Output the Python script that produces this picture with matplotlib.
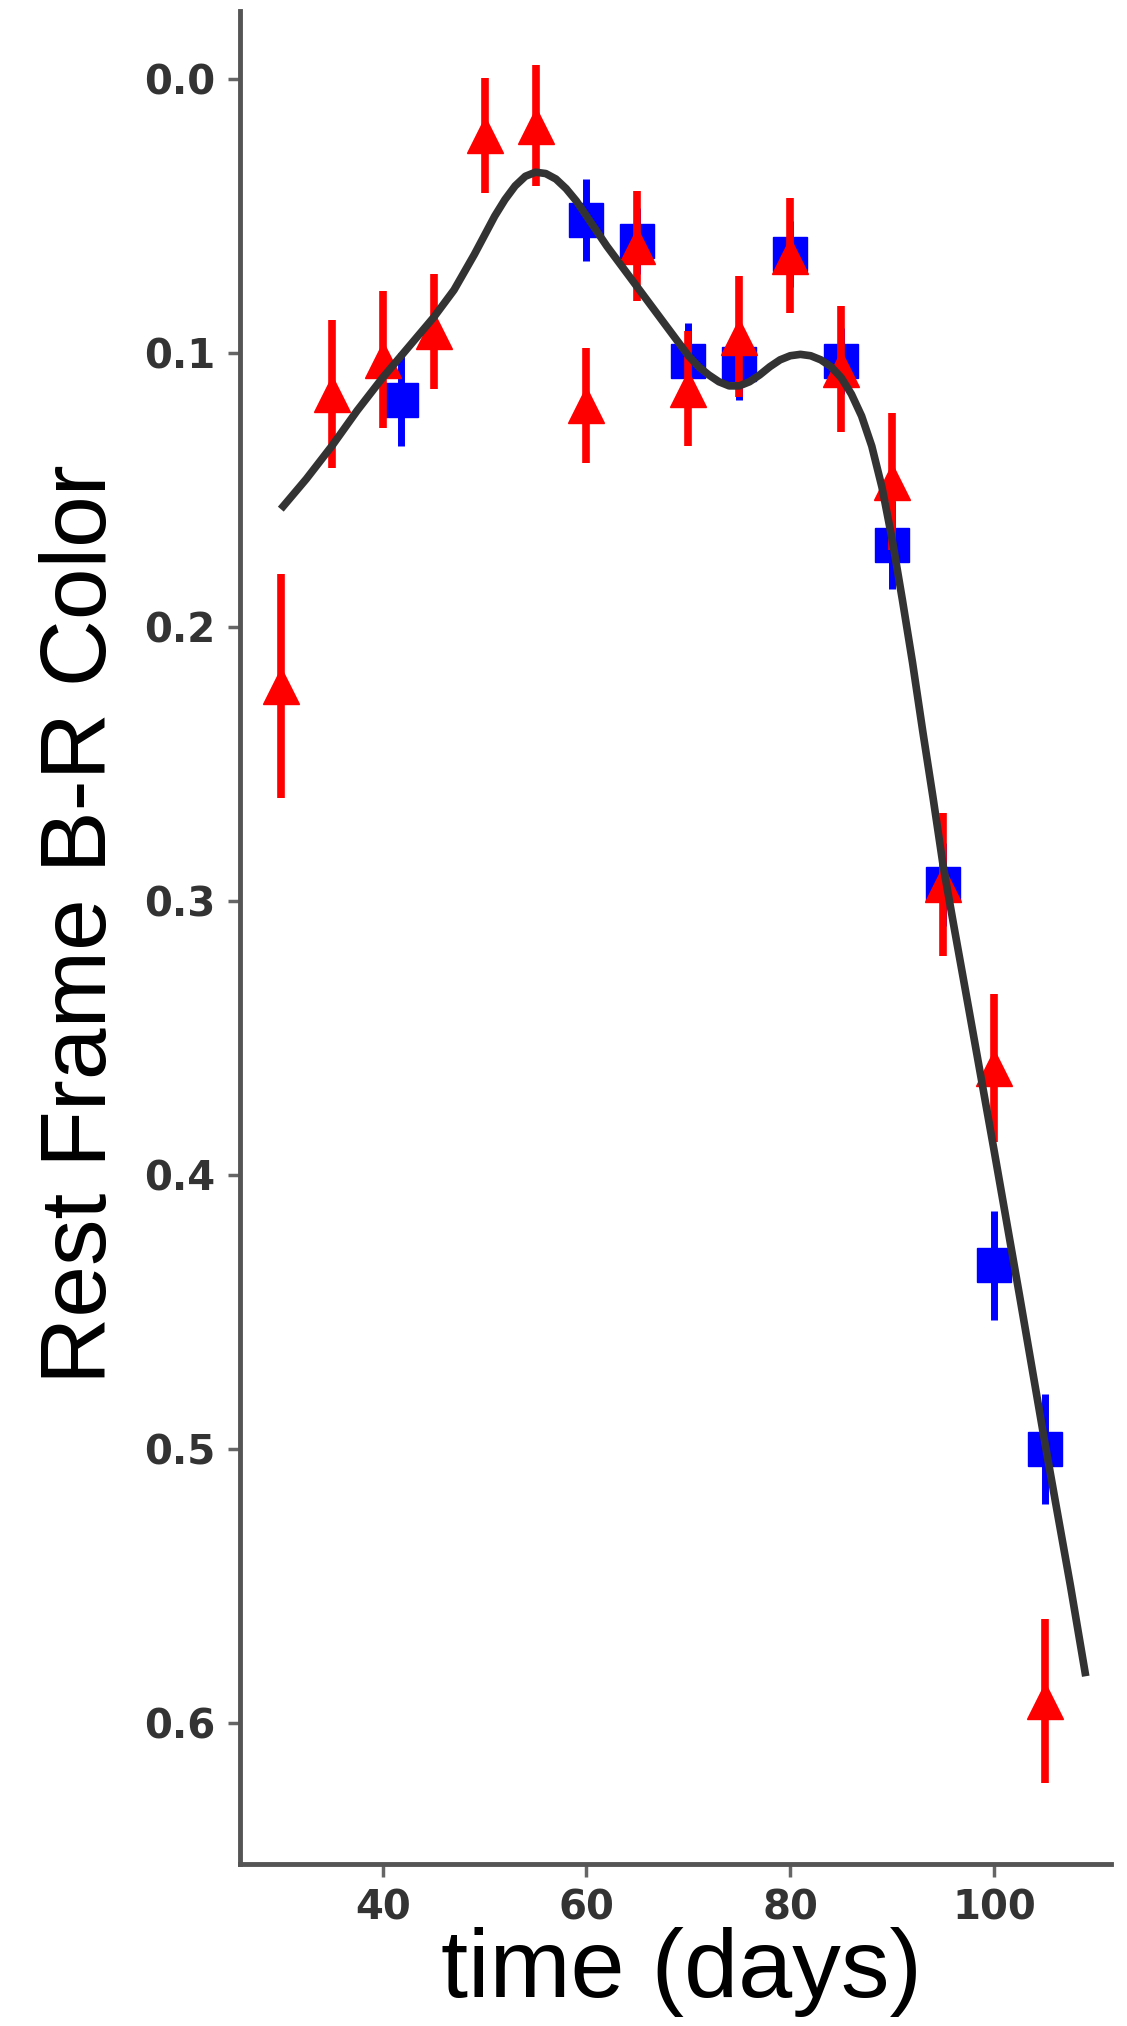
import matplotlib
matplotlib.use("Agg")
import matplotlib.pyplot as plt
import numpy as np

# R-band (red triangles) colour points
t_red = [30, 35, 40, 45, 50, 55, 60, 65, 70, 75, 80, 85, 90, 95, 100, 105]
c_red = [0.2215, 0.115, 0.1025, 0.092, 0.0205, 0.017, 0.119, 0.061, 0.113, 0.094,
         0.0645, 0.106, 0.147, 0.294, 0.361, 0.592]
e_red = [0.041, 0.027, 0.025, 0.021, 0.021, 0.022, 0.021, 0.02, 0.021, 0.022,
         0.021, 0.023, 0.025, 0.026, 0.027, 0.03]

# blue squares
t_blue = [41.8, 60, 65, 70, 75, 80, 85, 90, 95, 100, 105]
c_blue = [0.117, 0.0516, 0.059, 0.103, 0.104, 0.064, 0.103, 0.17, 0.294, 0.433, 0.5]
e_blue = [0.017, 0.015, 0.012, 0.014, 0.013, 0.012, 0.012, 0.016, 0.015, 0.02, 0.02]

# smooth fit through the colour curve
t_fit = [30, 32.5, 35, 37.5, 40, 42.5, 45, 47, 49, 50, 51, 52, 53, 54, 55, 56,
         57, 58, 59, 60, 62, 64, 66, 68, 70, 71, 72, 73, 74, 75, 76, 77, 78, 79,
         80, 81, 82, 83, 84, 85, 86, 87, 88, 89, 90, 91, 92, 93, 94, 95, 96,
         97.5, 100, 102.5, 105, 107.5, 109]
c_fit = [0.157, 0.146, 0.134, 0.121, 0.109, 0.098, 0.087, 0.077, 0.064, 0.057,
         0.050, 0.044, 0.039, 0.0355, 0.034, 0.0345, 0.0365, 0.040, 0.0445, 0.050,
         0.061, 0.071, 0.081, 0.091, 0.101, 0.105, 0.108, 0.1105, 0.112, 0.112,
         0.1105, 0.108, 0.105, 0.1025, 0.101, 0.1005, 0.101, 0.1025, 0.105, 0.109,
         0.115, 0.123, 0.134, 0.149, 0.168, 0.190, 0.213, 0.238, 0.262, 0.287,
         0.308, 0.339, 0.391, 0.444, 0.498, 0.550, 0.583]

fig = plt.figure(figsize=(11.27, 20.26), dpi=100)
ax = fig.add_axes([0.213, 0.080, 0.986 - 0.213, 0.9948 - 0.080])

ax.errorbar(t_blue, c_blue, yerr=e_blue, fmt='s', color='#0000ff', ms=25,
            elinewidth=5, capsize=0, zorder=2)
ax.errorbar(t_red, c_red, yerr=e_red, fmt='^', color='#ff0000', ms=26,
            elinewidth=5.5, capsize=0, zorder=3)
ax.plot(t_fit, c_fit, color='#333333', lw=5.5, zorder=4,
        solid_capstyle='butt', solid_joinstyle='round')

ax.set_xlim(26.0, 111.5)
ax.set_ylim(0.6515, -0.025)
ax.set_xticks([40, 60, 80, 100])
ax.set_yticks([0.0, 0.1, 0.2, 0.3, 0.4, 0.5, 0.6])

for side in ['top', 'right']:
    ax.spines[side].set_visible(False)
for side in ['left', 'bottom']:
    ax.spines[side].set_color('#555555')
    ax.spines[side].set_linewidth(3.5)

ax.tick_params(length=9, width=2.5, color='#666666', pad=9,
               labelsize=29, labelcolor='#333333')
for lbl in ax.get_xticklabels() + ax.get_yticklabels():
    lbl.set_fontweight('bold')

fig.text(0.073, 0.544, 'Rest Frame B-R Color', rotation=90, ha='center',
         va='center', fontsize=67, family='Liberation Sans')
fig.text(0.605, 0.0143, 'time (days)', ha='center', va='baseline',
         fontsize=70, family='Liberation Sans')

fig.savefig('out.png', dpi=100, facecolor='white')
